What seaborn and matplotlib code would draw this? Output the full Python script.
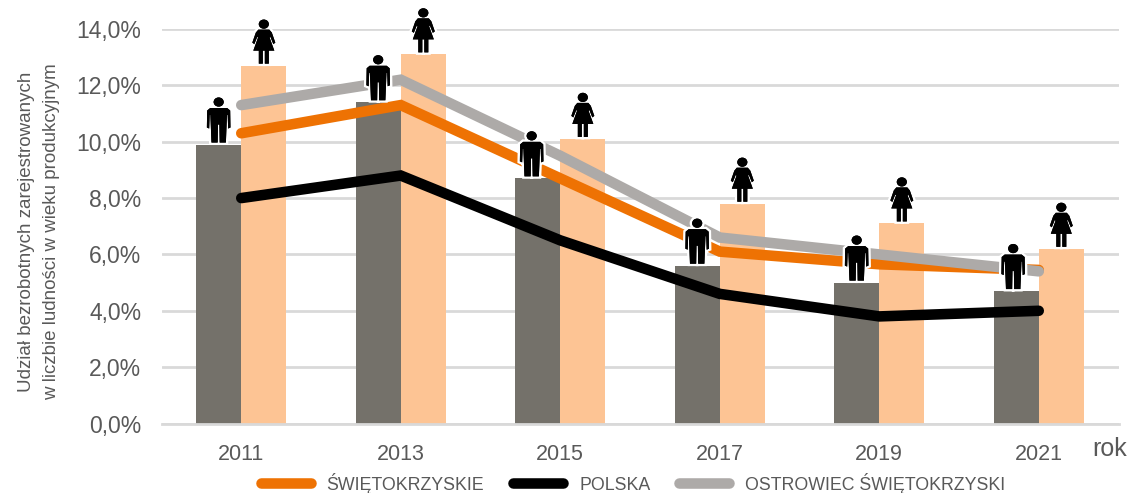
import matplotlib
matplotlib.use("Agg")
import matplotlib.pyplot as plt
import matplotlib.patheffects as pe
import numpy as np
import pandas as pd
import seaborn as sns
from matplotlib.patches import PathPatch
from matplotlib.path import Path
from matplotlib.transforms import Affine2D, ScaledTranslation

# ── data ──────────────────────────────────────────────────────────────────────
YEARS = [2011, 2013, 2015, 2017, 2019, 2021]
MEN = [9.9, 11.4, 8.7, 5.6, 5.0, 4.7]
WOMEN = [12.7, 13.1, 10.1, 7.8, 7.1, 6.2]
SWIETOKRZYSKIE = [10.3, 11.3, 8.7, 6.1, 5.65, 5.45]
POLSKA = [8.0, 8.8, 6.5, 4.6, 3.8, 4.0]
OSTROWIEC = [11.3, 12.2, 9.5, 6.6, 6.0, 5.4]
YTICKS = [0, 2, 4, 6, 8, 10, 12, 14]

# ── palette ───────────────────────────────────────────────────────────────────
GREY_BAR = "#74716A"
PEACH = "#FDC494"
ORANGE = "#EE7203"
LINE_GREY = "#ADAAA8"
GRID = "#D9D9D9"
TEXT = "#595959"

sns.set_theme(style="white")
plt.rcParams["font.family"] = ["Liberation Sans", "DejaVu Sans"]

fig = plt.figure(figsize=(11.3, 4.93), dpi=100)
ax = fig.add_axes([161.5 / 1130, 69.5 / 493, 957 / 1130, 394.5 / 493])

# ── bars ──────────────────────────────────────────────────────────────────────
bars = pd.DataFrame({
    "rok": YEARS * 2,
    "udzial": MEN + WOMEN,
    "plec": ["M"] * len(YEARS) + ["K"] * len(YEARS),
})
sns.barplot(data=bars, x="rok", y="udzial", hue="plec", hue_order=["M", "K"],
            palette=[GREY_BAR, PEACH], width=0.566, gap=0, legend=False,
            saturation=1, zorder=2, linewidth=0, ax=ax)

# ── lines ─────────────────────────────────────────────────────────────────────
LABELS = ["ŚWIĘTOKRZYSKIE", "POLSKA", "OSTROWIEC ŚWIĘTOKRZYSKI"]
lines = pd.DataFrame({
    "x": list(range(len(YEARS))) * 3,
    "udzial": SWIETOKRZYSKIE + POLSKA + OSTROWIEC,
    "seria": np.repeat(LABELS, len(YEARS)),
})
sns.lineplot(data=lines, x="x", y="udzial", hue="seria", hue_order=LABELS,
             palette=[ORANGE, "black", LINE_GREY], linewidth=7.6, sort=False,
             solid_capstyle="round", solid_joinstyle="miter", zorder=3, ax=ax)


# ── pictograms (local pixel units, origin at the feet) ───────────────────────
def glyph(body):
    head_y, head_r = body[0]
    head = Path.unit_circle().transformed(
        Affine2D().scale(head_r * 1.1, head_r).translate(0, head_y))
    outline = body[1]
    right = [(x, y) for x, y in outline]
    left = [(-x, y) for x, y in reversed(outline)]
    verts = right + left + [right[0]]
    codes = [Path.MOVETO] + [Path.LINETO] * (len(verts) - 2) + [Path.CLOSEPOLY]
    return Path.make_compound_path(head, Path(verts, codes))


MAN = glyph(((40.5, 4.6), [
    (0, 34.5), (8.5, 34.5), (11.5, 32), (11.8, 15), (9.5, 14), (9, 27.5),
    (8.3, 27.5), (7.2, 0), (1, 0), (0.7, 18), (0, 18),
]))
WOMAN = glyph(((39.5, 4.6), [
    (0, 34), (5.5, 34), (8, 31), (11.5, 21), (9.5, 19.5), (6.5, 27),
    (5.8, 26), (10.5, 13), (5, 13), (5, 0), (1, 0), (1, 13), (0, 13),
]))


def add_icon(path, x, y, dx, gap):
    tr = (Affine2D().translate(dx, gap)
          + ScaledTranslation(x, y, ax.transData))
    patch = PathPatch(path, facecolor="black", edgecolor="none", transform=tr,
                      zorder=5, clip_on=False)
    patch.set_path_effects([pe.withStroke(linewidth=3.5, foreground="white"), pe.Normal()])
    ax.add_patch(patch)


MAN_DX = [0, 0, -6, 0, 0, -3]
for bar, dx in zip(ax.containers[0], MAN_DX):
    add_icon(MAN, bar.get_x() + bar.get_width() / 2, bar.get_height(), dx, 2)
for bar in ax.containers[1]:
    add_icon(WOMAN, bar.get_x() + bar.get_width() / 2, bar.get_height(), 0, 2)

# ── axes ──────────────────────────────────────────────────────────────────────
ax.set_xlim(-0.5, len(YEARS) - 0.5)
ax.set_ylim(0, 14)
ax.set_yticks(YTICKS)
ax.set_yticklabels([f"{v:.1f}%".replace(".", ",") for v in YTICKS])
ax.yaxis.grid(True, color=GRID, linewidth=2)
ax.set_axisbelow(True)
ax.tick_params(axis="x", length=0, labelsize=15.5, labelcolor=TEXT, pad=15)
ax.tick_params(axis="y", length=0, labelsize=16.5, labelcolor=TEXT, pad=14.5)
for side in ["top", "right", "left"]:
    ax.spines[side].set_visible(False)
ax.spines["bottom"].set_color(GRID)
ax.spines["bottom"].set_linewidth(2)
ax.set_xlabel("")
ax.set_ylabel("Udział bezrobotnych zarejestrowanych\nw liczbie ludności w wieku produkcyjnym",
              fontsize=13.5, color=TEXT, linespacing=1.62)
ax.yaxis.set_label_coords(-0.1065, 0.487)

fig.text(1092 / 1130, 1 - 449 / 493, "rok", fontsize=18, color=TEXT, va="center")

handles, labels = ax.get_legend_handles_labels()
ax.get_legend().remove()
fig.legend(handles, labels, loc="center", bbox_to_anchor=(633 / 1130, 1 - 483 / 493),
           ncol=3, frameon=False, fontsize=12.8, labelcolor=TEXT, handlelength=2.8,
           handletextpad=0.9, columnspacing=1.63, borderpad=0, borderaxespad=0)

fig.savefig("out.png", dpi=100)
plt.close(fig)
